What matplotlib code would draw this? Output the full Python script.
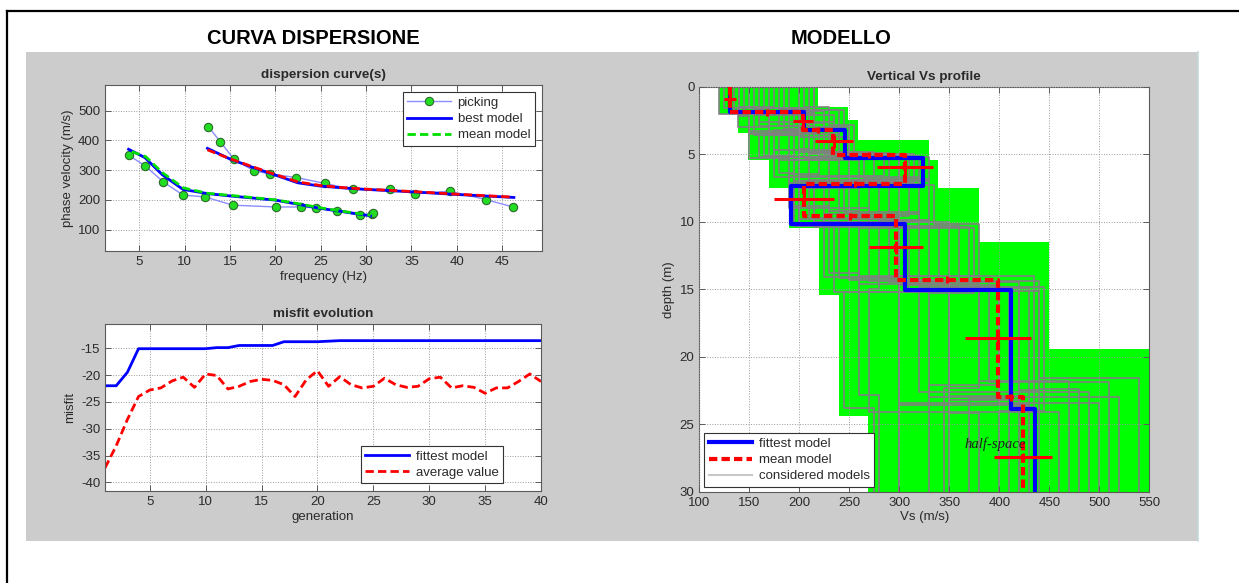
import matplotlib
matplotlib.use("Agg")
import matplotlib.pyplot as plt
from matplotlib.patches import Rectangle, Polygon
from matplotlib.lines import Line2D

plt.rcParams["font.family"] = ["Liberation Sans", "DejaVu Sans"]
plt.rcParams["axes.unicode_minus"] = False

FIG_W, FIG_H = 1239, 583
DPI = 100

TXT = "#2a2a2a"
SPINE = "#5a5a5a"
GRID = "#9a9a9a"

# dispersion curve(s): picked points for the two modes
pick0_f = [3.8, 5.6, 7.6, 9.8, 12.2, 15.3, 20.1, 22.8, 24.5, 26.8, 29.3, 30.6, 30.8]
pick0_v = [350, 315, 261, 216, 210, 182, 176, 176, 173, 162, 148, 154, 155]
pick1_f = [12.6, 13.9, 15.4, 17.6, 19.4, 22.3, 25.5, 28.5, 32.6, 35.4, 39.2, 43.2, 46.2]
pick1_v = [446, 396, 337, 298, 287, 275, 255, 235, 235, 221, 229, 201, 176]

# modelled curves
best0_f = [3.8, 5.6, 7.5, 9.8, 12.5, 15.0, 20.0, 22.5, 25.0, 27.5, 30.5]
best0_v = [370, 342, 285, 235, 221, 213, 199, 185, 171, 160, 146]
mean0_f = [4.15, 5.7, 7.5, 9.85, 12.5, 15.0, 20.0, 22.5, 25.0, 27.5, 30.5]
mean0_v = [362, 345, 292, 240, 222, 215, 200, 187, 173, 161, 148]
best1_f = [12.5, 15.0, 17.5, 20.0, 22.5, 25.0, 27.5, 30.0, 35.0, 40.0, 45.0, 46.3]
best1_v = [373, 337, 309, 283, 257, 246, 240, 235, 227, 218, 210, 208]
mean1_f = [12.5, 15.0, 17.5, 20.0, 22.5, 25.0, 27.5, 30.0, 35.0, 40.0, 45.0, 46.3]
mean1_v = [368, 338, 311, 285, 260, 248, 241, 236, 228, 219, 211, 209]

# misfit evolution
generation = list(range(1, 41))
fittest = [-22.0, -22.0, -19.5, -15.1, -15.1, -15.1, -15.1, -15.1, -15.1, -15.1,
           -14.9, -14.9, -14.5, -14.5, -14.5, -14.5, -13.8, -13.8, -13.8, -13.8,
           -13.7, -13.6, -13.6, -13.6, -13.6, -13.6, -13.6, -13.6, -13.6, -13.6,
           -13.6, -13.6, -13.6, -13.6, -13.6, -13.6, -13.6, -13.6, -13.6, -13.6]
average = [-37.3, -33.2, -28.3, -24.0, -22.8, -22.4, -21.1, -20.4, -22.3, -19.8,
           -20.1, -22.6, -22.1, -21.2, -20.8, -21.0, -21.8, -24.0, -20.9, -19.2,
           -22.1, -20.3, -21.8, -22.4, -22.1, -20.6, -21.8, -22.3, -22.1, -20.7,
           -20.4, -22.4, -22.0, -22.3, -23.4, -22.4, -22.4, -21.2, -19.8, -21.2]

# Vs profile: layer interfaces (m) and velocities (m/s)
fit_z = [0, 1.85, 3.2, 5.25, 7.35, 10.2, 15.05, 23.9, 30]
fit_vs = [131, 205, 246, 324, 192, 306, 412, 436]
mean_z = [0, 1.9, 3.2, 5.05, 7.2, 9.6, 14.3, 23.0, 30]
mean_vs = [131, 204, 234, 306, 205, 297, 399, 424]

# per-layer mean and spread
cross_vs = [131, 204, 235, 306, 205, 297, 399, 424]
cross_z = [0.93, 2.52, 4.05, 5.97, 8.3, 11.9, 18.6, 27.4]
cross_dvs = [6, 10, 19, 28, 30, 27, 33, 29]
cross_dz = [0.43, 0.43, 0.5, 0.55, 0.55, 0.5, 0.45, 0.3]

# envelope of the explored models
env_left_z = [0, 2.0, 3.45, 5.45, 7.5, 10.5, 15.4, 24.4, 30]
env_left_vs = [120, 139, 149, 170, 190, 220, 240, 269]
env_right_z = [0, 1.5, 2.5, 3.95, 5.45, 7.5, 11.5, 19.4, 30]
env_right_vs = [219, 249, 259, 330, 339, 380, 450, 550]

# a sample of the considered models (interfaces, velocities)
models_z = [
    [1.6, 3.3, 5.0, 7.0, 9.8, 14.5, 22.5],
    [2.0, 3.0, 5.3, 7.4, 10.3, 15.0, 23.5],
    [1.8, 3.6, 4.8, 6.6, 9.2, 14.0, 21.8],
    [1.5, 2.8, 5.1, 7.2, 10.0, 14.8, 24.0],
    [2.2, 3.4, 5.4, 6.8, 9.5, 14.2, 22.0],
    [1.7, 3.2, 4.6, 7.5, 10.5, 15.3, 23.0],
    [1.9, 3.5, 5.2, 6.4, 8.8, 13.8, 22.8],
    [2.1, 3.7, 5.0, 7.3, 10.2, 15.1, 21.6],
    [1.6, 3.1, 4.9, 6.9, 9.7, 14.6, 24.2],
    [1.8, 3.3, 5.3, 7.1, 10.4, 14.9, 23.2],
    [2.0, 2.9, 5.0, 6.5, 9.0, 14.4, 22.4],
    [1.7, 3.5, 5.4, 7.4, 9.9, 15.2, 23.8],
    [1.9, 2.6, 4.7, 6.7, 9.4, 14.1, 23.4],
    [1.5, 3.0, 5.2, 7.0, 10.1, 14.7, 22.1],
    [1.6, 3.4, 5.1, 6.9, 9.6, 14.3, 22.9],
    [1.8, 3.2, 5.2, 7.2, 10.0, 14.9, 23.6],
    [2.0, 3.1, 4.9, 7.4, 9.8, 15.0, 24.1],
    [1.7, 3.6, 5.3, 6.6, 10.3, 14.5, 21.9],
    [1.9, 2.7, 5.0, 7.1, 9.3, 14.8, 23.1],
    [2.1, 3.3, 5.4, 7.3, 10.1, 15.2, 22.6],
    [1.5, 2.9, 4.8, 6.8, 9.9, 14.0, 23.7],
    [1.8, 3.5, 5.1, 7.0, 10.4, 14.6, 22.3],
]
models_vs = [
    [125, 190, 230, 300, 200, 290, 420, 440],
    [140, 215, 250, 325, 195, 310, 400, 430],
    [160, 170, 200, 275, 230, 260, 380, 470],
    [205, 230, 255, 320, 215, 350, 445, 400],
    [140, 150, 180, 240, 240, 240, 300, 300],
    [180, 245, 210, 200, 260, 375, 330, 520],
    [135, 150, 160, 180, 195, 230, 260, 280],
    [215, 200, 250, 310, 335, 380, 440, 540],
    [150, 210, 240, 290, 210, 300, 350, 380],
    [130, 200, 150, 190, 300, 370, 420, 350],
    [170, 180, 210, 220, 190, 270, 440, 480],
    [190, 240, 190, 260, 280, 330, 245, 275],
    [215, 160, 235, 175, 320, 225, 300, 500],
    [175, 139, 170, 330, 250, 300, 400, 330],
    [200, 170, 220, 250, 310, 250, 350, 420],
    [145, 225, 175, 300, 225, 340, 430, 300],
    [120, 185, 245, 210, 270, 280, 270, 460],
    [165, 155, 205, 285, 200, 360, 390, 510],
    [185, 205, 225, 315, 245, 320, 410, 370],
    [155, 235, 195, 230, 290, 235, 320, 490],
    [140, 160, 215, 265, 330, 300, 435, 410],
    [210, 195, 165, 195, 215, 260, 380, 345],
]


def steps(z, v):
    xs, ys = [], []
    for i, val in enumerate(v):
        xs += [val, val]
        ys += [z[i], z[i + 1]]
    return xs, ys


def axes_px(fig, left, top, right, bottom):
    return fig.add_axes([left / FIG_W, 1 - bottom / FIG_H,
                         (right - left) / FIG_W, (bottom - top) / FIG_H])


def style_axes(ax, above=False):
    ax.set_facecolor("white")
    for s in ax.spines.values():
        s.set_color(SPINE)
        s.set_linewidth(0.8)
    ax.tick_params(direction="in", top=True, right=True, length=4, width=0.7,
                   color=SPINE, labelcolor=TXT, labelsize=9.5)
    ax.grid(True, linestyle=":", color=GRID, linewidth=0.7)
    ax.set_axisbelow(not above)


def make_legend(ax, handles, labels, **kw):
    leg = ax.legend(handles, labels, fancybox=False, framealpha=1,
                    edgecolor="#333333", fontsize=9.5, handlelength=3.3,
                    labelspacing=0.3, borderpad=0.35, handletextpad=0.5, **kw)
    leg.get_frame().set_linewidth(0.8)
    for t in leg.get_texts():
        t.set_color(TXT)
    return leg


fig = plt.figure(figsize=(FIG_W / DPI, FIG_H / DPI), dpi=DPI, facecolor="white")

# page frame and grey panel
fig.add_artist(Line2D([6.5 / FIG_W, 1], [1 - 10.5 / FIG_H] * 2, color="black",
                      lw=1.6, transform=fig.transFigure))
fig.add_artist(Line2D([6.5 / FIG_W] * 2, [0, 1 - 10.5 / FIG_H], color="black",
                      lw=1.6, transform=fig.transFigure))
fig.add_artist(Rectangle((26 / FIG_W, 1 - 541 / FIG_H), 1172 / FIG_W, 489 / FIG_H,
                         transform=fig.transFigure, facecolor="#cccccc",
                         edgecolor="none", zorder=0))
fig.add_artist(Line2D([1197.5 / FIG_W] * 2, [1 - 541 / FIG_H, 1 - 52 / FIG_H],
                      color="#c4dada", lw=1.2, transform=fig.transFigure))

fig.text(313 / FIG_W, 1 - 38 / FIG_H, "CURVA DISPERSIONE", ha="center", va="center",
         fontsize=14.5, fontweight="bold")
fig.text(841 / FIG_W, 1 - 38 / FIG_H, "MODELLO", ha="center", va="center",
         fontsize=14.5, fontweight="bold")

# dispersion curves
ax1 = axes_px(fig, 105, 85, 542, 251)
style_axes(ax1)
pick_kw = dict(color="#8c8cff", lw=1, marker="o", ms=6, mfc="#22dd22", mec="#2c6a2c", mew=0.8)
ax1.plot(pick0_f, pick0_v, **pick_kw)
ax1.plot(pick1_f, pick1_v, **pick_kw)
ax1.plot(best0_f, best0_v, color="#0000ff", lw=2)
ax1.plot(best1_f, best1_v, color="#0000ff", lw=2)
ax1.plot(mean0_f, mean0_v, color="#00e000", lw=2, ls=(0, (3, 1.5)))
ax1.plot(mean1_f, mean1_v, color="#ff0000", lw=2, ls=(0, (3, 1.5)))
ax1.set_xlim(1.2, 49.4)
ax1.set_ylim(28, 586)
ax1.set_xticks(range(5, 50, 5))
ax1.set_yticks(range(100, 600, 100))
ax1.set_title("dispersion curve(s)", fontsize=9.7, fontweight="bold", color=TXT, pad=5)
ax1.set_xlabel("frequency (Hz)", fontsize=9.5, color=TXT, labelpad=2)
ax1.set_ylabel("phase velocity (m/s)", fontsize=9.5, color=TXT, labelpad=3)
make_legend(ax1,
            [Line2D([], [], **pick_kw),
             Line2D([], [], color="#0000ff", lw=2),
             Line2D([], [], color="#00e000", lw=2, ls=(0, (3, 1.5)))],
            ["picking", "best model", "mean model"],
            loc="upper right", borderaxespad=0.55)

# misfit evolution
ax2 = axes_px(fig, 105, 324, 541, 491)
style_axes(ax2)
ax2.plot(generation, fittest, color="#0000ff", lw=2)
ax2.plot(generation, average, color="#ff0000", lw=2, ls=(0, (3, 1.5)))
ax2.set_xlim(1, 40)
ax2.set_ylim(-41.6, -10.5)
ax2.set_xticks(range(5, 41, 5))
ax2.set_yticks(range(-40, -14, 5))
ax2.set_title("misfit evolution", fontsize=9.7, fontweight="bold", color=TXT, pad=5)
ax2.set_xlabel("generation", fontsize=9.5, color=TXT, labelpad=2)
ax2.set_ylabel("misfit", fontsize=9.5, color=TXT, labelpad=3)
make_legend(ax2,
            [Line2D([], [], color="#0000ff", lw=2),
             Line2D([], [], color="#ff0000", lw=2, ls=(0, (3, 1.5)))],
            ["fittest model", "average value"],
            loc="lower right", bbox_to_anchor=(0.913, 0.045), borderaxespad=0)

# vertical Vs profile
ax3 = axes_px(fig, 699.3, 86.7, 1149.3, 491.7)
style_axes(ax3, above=True)
env = list(zip(*steps(env_right_z, env_right_vs)))
lx, ly = steps(env_left_z, env_left_vs)
env += list(zip(lx[::-1], ly[::-1]))
ax3.add_patch(Polygon(env, closed=True, facecolor="#00ff00", edgecolor="none", zorder=1))
for mz, mv in zip(models_z, models_vs):
    sx, sy = steps([0] + mz + [30], mv)
    ax3.plot(sx, sy, color="#808080", lw=1.2, zorder=2)
sx, sy = steps(fit_z, fit_vs)
ax3.plot(sx, sy, color="#0000ff", lw=3, zorder=3)
sx, sy = steps(mean_z, mean_vs)
ax3.plot(sx, sy, color="#ff0000", lw=3, ls=(0, (2, 1)), zorder=4)
ax3.errorbar(cross_vs, cross_z, xerr=cross_dvs, yerr=cross_dz, fmt="none",
             ecolor="#ff0000", elinewidth=2.2, capsize=0, zorder=5)
iface_vs = [(a + b) / 2 for a, b in zip(mean_vs[:-1], mean_vs[1:])]
ax3.errorbar(iface_vs, mean_z[1:-1], yerr=0.25, fmt="none",
             ecolor="#ff0000", elinewidth=2.2, capsize=0, zorder=5)
ax3.text(396, 26.5, "half-space", fontsize=10.5, style="italic", family="Liberation Serif",
         ha="center", va="center", color="#202020", zorder=6)
ax3.set_xlim(100, 550)
ax3.set_ylim(30, 0)
ax3.set_xticks(range(100, 551, 50))
ax3.set_yticks(range(0, 31, 5))
ax3.set_title("Vertical Vs profile", fontsize=9.7, fontweight="bold", color=TXT, pad=5)
ax3.set_xlabel("Vs (m/s)", fontsize=9.5, color=TXT, labelpad=2)
ax3.set_ylabel("depth (m)", fontsize=9.5, color=TXT, labelpad=3)
make_legend(ax3,
            [Line2D([], [], color="#0000ff", lw=3),
             Line2D([], [], color="#ff0000", lw=3, ls=(0, (2, 1))),
             Line2D([], [], color="#c8c8c8", lw=1.5)],
            ["fittest model", "mean model", "considered models"],
            loc="lower left", borderaxespad=0.35)

fig.savefig("out.png", dpi=DPI)
